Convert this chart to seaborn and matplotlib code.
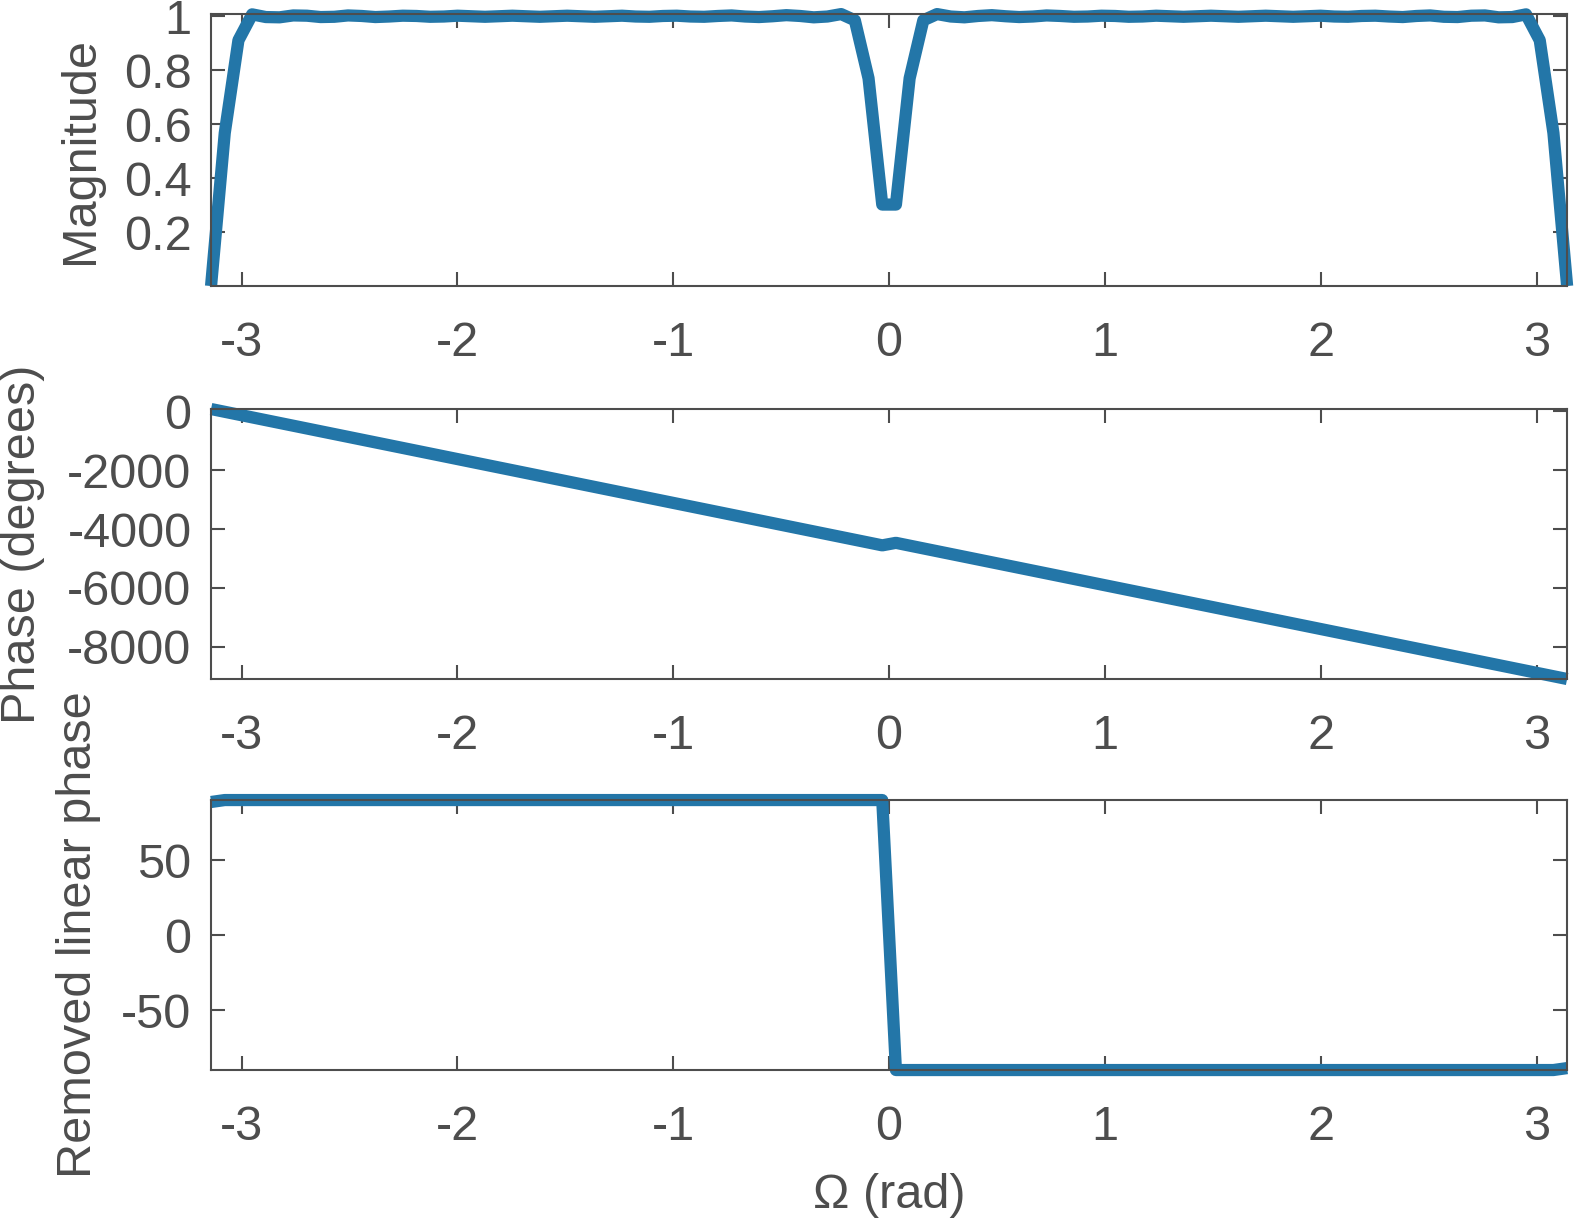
import numpy as np
import pandas as pd
import matplotlib
matplotlib.use("Agg")
import matplotlib.pyplot as plt
import seaborn as sns

# frequency grid (100 samples from -pi to pi)
omega = np.linspace(-np.pi, np.pi, 100)

# magnitude (left half, then right half)
mag_left = [0.0, 0.567, 0.911, 1.007, 0.997, 0.996, 1.003, 1.002, 0.997, 0.998,
            1.003, 1.001, 0.997, 0.999, 1.002, 1.001, 0.998, 0.999, 1.002, 1.000,
            0.998, 1.000, 1.002, 1.000, 0.998, 1.000, 1.002, 1.000, 0.998, 1.000,
            1.002, 0.999, 0.998, 1.001, 1.002, 0.999, 0.998, 1.001, 1.003, 0.999,
            0.997, 1.000, 1.004, 1.001, 0.996, 0.999, 1.008, 0.985, 0.770, 0.302]
mag_right = [0.302, 0.770, 0.985, 1.008, 0.999, 0.996, 1.001, 1.004, 1.000, 0.997,
             0.999, 1.003, 1.001, 0.998, 0.999, 1.002, 1.001, 0.998, 0.999, 1.002,
             1.000, 0.998, 1.000, 1.002, 1.000, 0.998, 1.000, 1.002, 1.000, 0.998,
             1.000, 1.002, 0.999, 0.998, 1.001, 1.002, 0.999, 0.997, 1.001, 1.003,
             0.998, 0.997, 1.002, 1.003, 0.996, 0.997, 1.007, 0.911, 0.567, 0.0]
magnitude = mag_left + mag_right

# unwrapped phase (degrees): straight line with a small step at 0
phase_omega = [-np.pi, -0.0317, 0.0317, np.pi]
phase_deg = [80, -4555, -4470, -9100]

# phase after removing the linear part
rem_omega = [-np.pi, -3.078, -0.0317, 0.0317, 3.078, np.pi]
rem_deg = [88.7, 90, 90, -90, -90, -88.7]

xticks = [-3, -2, -1, 0, 1, 2, 3]

sns.set_theme(style="ticks")
gray = "#4d4d4d"
plt.rcParams["font.family"] = ["Liberation Sans", "DejaVu Sans"]
plt.rcParams["axes.unicode_minus"] = False
plt.rcParams["axes.edgecolor"] = gray
plt.rcParams["axes.linewidth"] = 1.5

blue = "#2376a8"
fs = 35

fig = plt.figure(figsize=(15.75, 12.25), dpi=100)
ax1 = fig.add_axes([0.134, 0.7665, 0.861, 0.222])
ax2 = fig.add_axes([0.134, 0.4457, 0.861, 0.2204])
ax3 = fig.add_axes([0.134, 0.1265, 0.861, 0.2204])

df1 = pd.DataFrame({"w": omega, "m": magnitude})
sns.lineplot(data=df1, x="w", y="m", ax=ax1, color=blue, linewidth=8.8)
sns.lineplot(x=phase_omega, y=phase_deg, ax=ax2, color=blue, linewidth=8.8)
sns.lineplot(x=rem_omega, y=rem_deg, ax=ax3, color=blue, linewidth=8.8)

ax1.set_ylim(0, 1.008)
ax1.set_yticks([0.2, 0.4, 0.6, 0.8, 1.0])
ax1.set_yticklabels(["0.2", "0.4", "0.6", "0.8", "1"])
ax2.set_ylim(-9100, 80)
ax2.set_yticks([-8000, -6000, -4000, -2000, 0])
ax3.set_ylim(-90, 90)
ax3.set_yticks([-50, 0, 50])

for ax in (ax1, ax2, ax3):
    ax.set_xlim(-np.pi, np.pi)
    ax.set_xticks(xticks)
    ax.set_xticklabels([str(t) for t in xticks])
    for line in ax.get_lines():
        line.set_clip_on(False)
        line.set_solid_joinstyle("round")
        line.set_solid_capstyle("butt")
    for s in ax.spines.values():
        s.set_visible(True)
        s.set_color(gray)
    ax.tick_params(direction="in", length=10, width=1.5, color=gray,
                   labelsize=fs, labelcolor=gray, top=True, right=True)
    ax.tick_params(axis="x", pad=25)
    ax.tick_params(axis="y", pad=14)
    ax.set_xlabel("")

ax1.set_ylabel("Magnitude", fontsize=fs, color=gray)
ax1.yaxis.set_label_coords(-0.080, 0.5)
ax2.set_ylabel("Phase (degrees)", fontsize=fs, color=gray)
ax2.yaxis.set_label_coords(-0.1225, 0.5)
ax3.set_ylabel("Removed linear phase", fontsize=fs, color=gray)
ax3.yaxis.set_label_coords(-0.0815, 0.5)
ax3.set_xlabel("\u03a9 (rad)", fontsize=fs, color=gray, labelpad=17)

fig.savefig("out.png", dpi=100)
